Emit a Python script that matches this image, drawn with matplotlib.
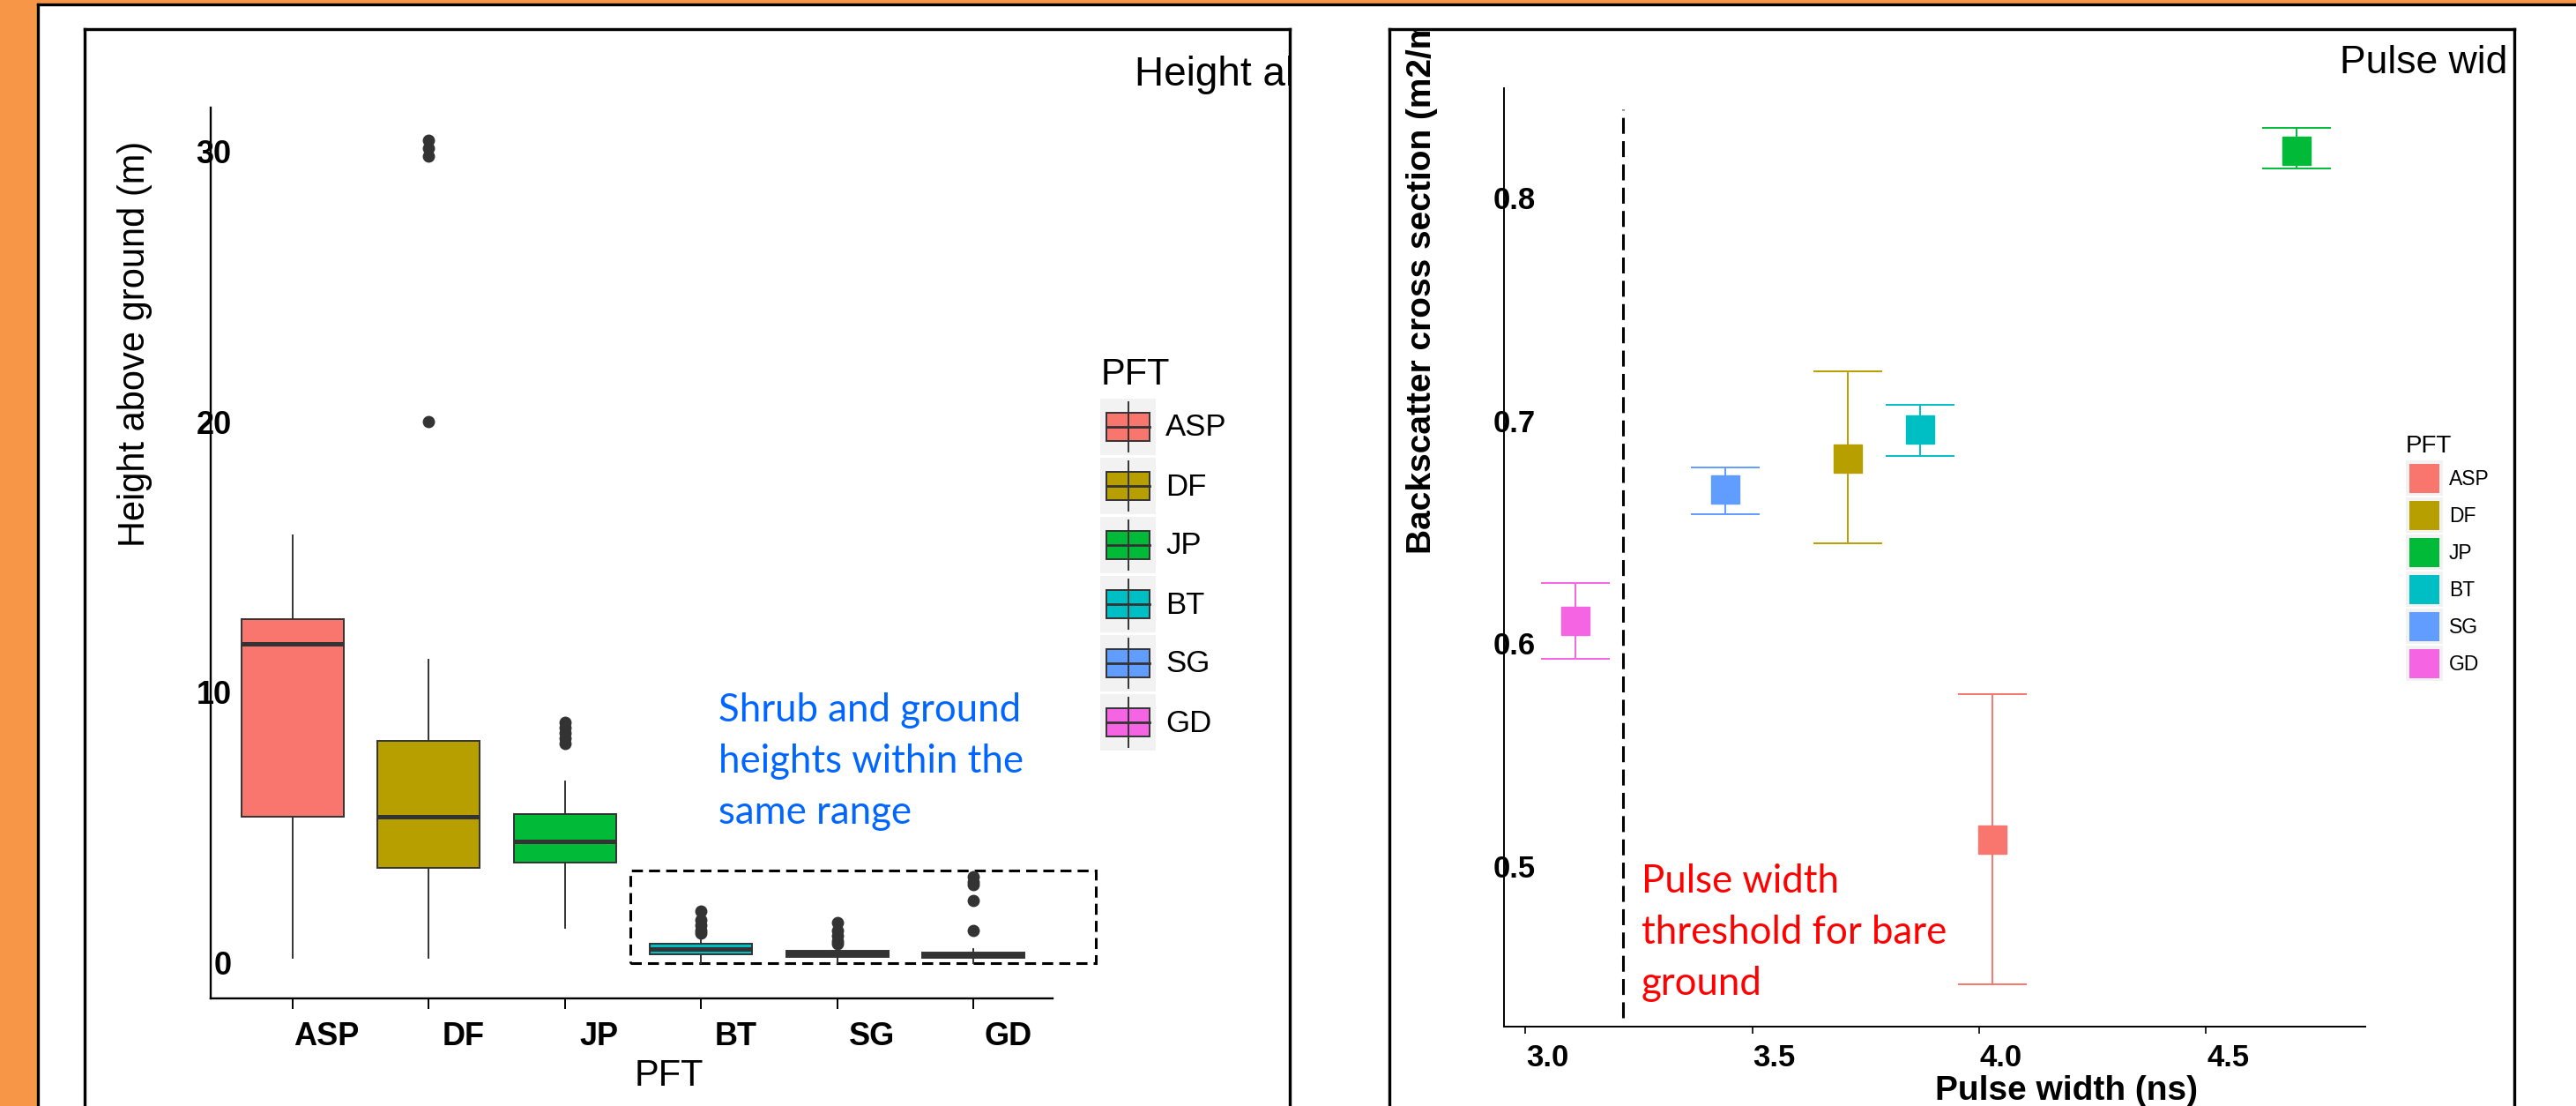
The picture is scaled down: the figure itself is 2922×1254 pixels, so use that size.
import matplotlib
matplotlib.use("Agg")
import matplotlib.pyplot as plt
from matplotlib.patches import Rectangle
from matplotlib.transforms import ScaledTranslation

plt.rcParams['font.family'] = ['Liberation Sans', 'DejaVu Sans']
plt.rcParams['lines.scale_dashes'] = False

# plant functional types and their ggplot colours
pft = ['ASP', 'DF', 'JP', 'BT', 'SG', 'GD']
pft_colors = ['#F8766D', '#B79F00', '#00BA38', '#00BFC4', '#619CFF', '#F564E3']

# left panel: height above ground (m), box statistics per PFT
h_whislo = [0.2, 0.2, 1.3, 0.0, 0.0, 0.0]
h_q1 = [5.4, 3.5, 3.7, 0.33, 0.23, 0.20]
h_med = [11.8, 5.4, 4.5, 0.52, 0.35, 0.30]
h_q3 = [12.7, 8.2, 5.5, 0.72, 0.46, 0.39]
h_whishi = [15.8, 11.2, 6.7, 0.85, 0.6, 0.5]
h_fliers = [[], [30.4, 30.1, 29.8, 20.0], [8.9, 8.7, 8.5, 8.3, 8.1],
            [1.9, 1.6, 1.4, 1.2, 1.1], [1.5, 1.2, 1.0, 0.8, 0.7],
            [3.2, 3.0, 2.9, 2.3, 1.2]]
h_ticks = [0, 10, 20, 30]

# right panel: mean pulse width vs backscatter cross section
pw_mean = [4.03, 3.71, 4.70, 3.87, 3.44, 3.11]
bs_mean = [0.512, 0.683, 0.821, 0.696, 0.669, 0.610]
bs_low = [0.447, 0.645, 0.813, 0.684, 0.658, 0.593]
bs_high = [0.577, 0.722, 0.831, 0.707, 0.679, 0.627]
pw_threshold = 3.216
pw_ticks = [3.0, 3.5, 4.0, 4.5]
bs_ticks = [0.5, 0.6, 0.7, 0.8]

W, H = 2922, 1254
DPI = 100
PT = DPI / 72.0  # pixels per point


def fx(px):
    return px / W


def fy(py):
    return 1 - py / H


fig = plt.figure(figsize=(W / DPI, H / DPI), dpi=DPI, facecolor='#F79646')

# white slide panel with a black border
panel = fig.add_axes([fx(43), 0, 1 - fx(43), fy(5)], zorder=0)
panel.set_xticks([])
panel.set_yticks([])
panel.set_facecolor('white')
for side in ['right', 'bottom']:
    panel.spines[side].set_visible(False)
for side in ['left', 'top']:
    panel.spines[side].set_linewidth(3.3 / PT)


def frame(x0, x1, y0):
    a = fig.add_axes([fx(x0), 0, fx(x1) - fx(x0), fy(y0)], zorder=1)
    a.set_xlim(x0, x1)
    a.set_ylim(H, y0)
    a.set_xticks([])
    a.set_yticks([])
    a.patch.set_alpha(0)
    a.spines['bottom'].set_visible(False)
    for side in ['left', 'top', 'right']:
        a.spines[side].set_linewidth(3.4 / PT)
    return a


fr1 = frame(96, 1463, 33)
fr2 = frame(1576, 2852, 33)

# ---------- left: box plot ----------
ax1 = fig.add_axes([fx(239), fy(1132), fx(1194) - fx(239), fy(122) - fy(1132)], zorder=2)
ax1.patch.set_alpha(0)
stats = []
for i in range(len(pft)):
    stats.append(dict(whislo=h_whislo[i], q1=h_q1[i], med=h_med[i], q3=h_q3[i],
                      whishi=h_whishi[i], fliers=h_fliers[i]))
pos = list(range(1, len(pft) + 1))
bp = ax1.bxp(stats, positions=pos, widths=0.75, patch_artist=True, showcaps=False,
             boxprops=dict(edgecolor='#333333', linewidth=1.4),
             whiskerprops=dict(color='#333333', linewidth=1.4),
             medianprops=dict(color='#333333', linewidth=3.6),
             flierprops=dict(marker='o', markerfacecolor='#333333',
                             markeredgecolor='#333333', markersize=9))
for box, col in zip(bp['boxes'], pft_colors):
    box.set_facecolor(col)
ax1.set_xlim(0.40, 6.58)
ax1.set_ylim(-1.31, 31.6)
for side in ['top', 'right']:
    ax1.spines[side].set_visible(False)
for side in ['left', 'bottom']:
    ax1.spines[side].set_linewidth(1.7)
ax1.set_yticks(h_ticks)
ax1.set_yticklabels([str(t) for t in h_ticks], fontweight='bold', fontsize=26)
ax1.tick_params(axis='y', length=0, pad=-17)
ax1.set_xticks(pos)
ax1.set_xticklabels(pft, fontweight='bold', fontsize=26)
ax1.tick_params(axis='x', length=8.6, width=1.4, pad=10)
for lab in ax1.get_xticklabels():
    lab.set_transform(lab.get_transform() + ScaledTranslation(39 / DPI, 0, fig.dpi_scale_trans))

# dashed box around shrub and ground types
ax1.add_patch(Rectangle((3.48, 0.0), 3.42, 3.4, fill=False, edgecolor='black',
                        linewidth=2.2, linestyle=(0, (9, 5)), clip_on=False))

# ---------- right: pulse width vs backscatter ----------
ax2 = fig.add_axes([fx(1706), fy(1164), fx(2683) - fx(1706), fy(100) - fy(1164)], zorder=2)
ax2.patch.set_alpha(0)
for i in range(len(pft)):
    ax2.errorbar(pw_mean[i], bs_mean[i],
                 yerr=[[bs_mean[i] - bs_low[i]], [bs_high[i] - bs_mean[i]]],
                 fmt='s', color=pft_colors[i], markersize=23.5, ecolor=pft_colors[i],
                 elinewidth=1.4, capsize=28, capthick=1.4)
ax2.plot([pw_threshold, pw_threshold], [0.432, 0.8396], color='black',
         linewidth=2.2, linestyle=(0, (13, 6)))
ax2.set_xlim(2.953, 4.851)
ax2.set_ylim(0.428, 0.849)
for side in ['top', 'right']:
    ax2.spines[side].set_visible(False)
for side in ['left', 'bottom']:
    ax2.spines[side].set_linewidth(1.4)
ax2.set_yticks(bs_ticks)
ax2.set_yticklabels(['%.1f' % t for t in bs_ticks], fontweight='bold', fontsize=25)
ax2.tick_params(axis='y', length=0, pad=-26)
ax2.set_xticks(pw_ticks)
ax2.set_xticklabels(['%.1f' % t for t in pw_ticks], fontweight='bold', fontsize=25)
ax2.tick_params(axis='x', length=6, width=1.2, pad=8)
for lab in ax2.get_xticklabels():
    lab.set_transform(lab.get_transform() + ScaledTranslation(25 / DPI, 0, fig.dpi_scale_trans))

# ---------- titles cut by the frames ----------
fr1.text(1287, 97, 'Height al', fontsize=33, va='baseline', clip_on=True)
fr2.text(2654, 83, 'Pulse wid', fontsize=32, va='baseline', clip_on=True)
fr2.text(1613, 628, 'Backscatter cross section (m2/m2)', fontsize=28, fontweight='bold',
         rotation=90, rotation_mode='anchor', ha='left', va='center', clip_on=True)

# ---------- overlay in pixel coordinates ----------
ov = fig.add_axes([0, 0, 1, 1], zorder=5)
ov.set_xlim(0, W)
ov.set_ylim(H, 0)
ov.axis('off')

ov.text(153, 390, 'Height above ground (m)', fontsize=30, rotation=90,
        ha='center', va='center')
ov.text(759, 1220, 'PFT', fontsize=30, ha='center', va='center')
ov.text(2344, 1237, 'Pulse width (ns)', fontsize=28, fontweight='bold',
        ha='center', va='center')

# left legend (box keys)
ov.text(1249, 436, 'PFT', fontsize=30, va='baseline')
for i, (name, col) in enumerate(zip(pft, pft_colors)):
    top = 452 + i * 67
    ov.add_patch(Rectangle((1248, top), 63, 64, facecolor='#F2F2F2', edgecolor='none'))
    ov.plot([1280, 1280], [top + 4, top + 60], color='#333333', linewidth=1.4)
    ov.add_patch(Rectangle((1255, top + 16), 49, 32, facecolor=col,
                           edgecolor='#333333', linewidth=1.4))
    ov.plot([1255, 1304], [top + 32, top + 32], color='#333333', linewidth=2.0)
    ov.text(1322, top + 33, name, fontsize=25, va='center')

# right legend (square keys)
ov.text(2729, 513, 'PFT', fontsize=20, va='baseline')
for i, (name, col) in enumerate(zip(pft, pft_colors)):
    top = 522 + i * 42
    ov.add_patch(Rectangle((2729, top), 42, 40, facecolor='#F2F2F2', edgecolor='none'))
    ov.add_patch(Rectangle((2733, top + 4), 34, 33, facecolor=col, edgecolor='none'))
    ov.text(2778, top + 21, name, fontsize=16.5, va='center')

# call-outs
blue_lines = ['Shrub and ground', 'heights within the', 'same range']
for k, line in enumerate(blue_lines):
    ov.text(815, 818 + k * 58, line, fontsize=31.5, family='Lato', color='#0066FF',
            va='baseline')
red_lines = ['Pulse width', 'threshold for bare', 'ground']
for k, line in enumerate(red_lines):
    ov.text(1862, 1012 + k * 58, line, fontsize=31.5, family='Lato', color='#FF0000',
            va='baseline')

fig.savefig('out.png', dpi=DPI, facecolor=fig.get_facecolor())
